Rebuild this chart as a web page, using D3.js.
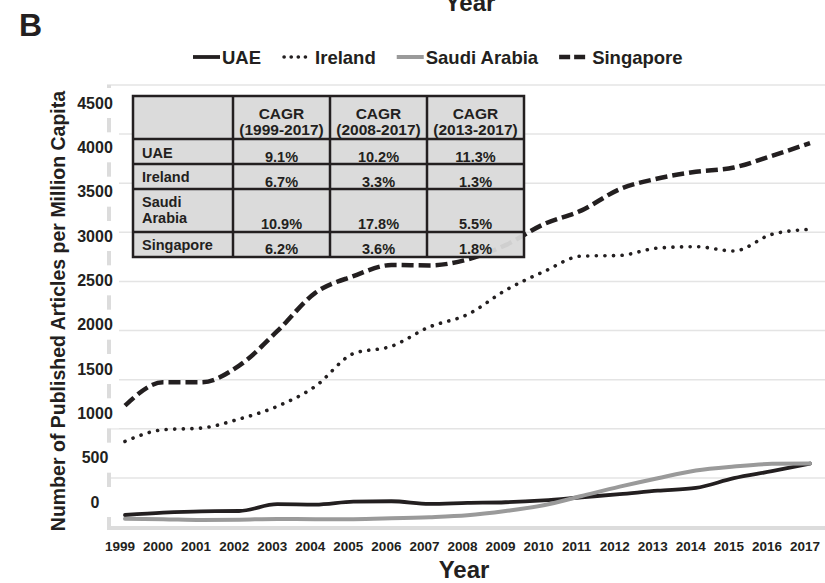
<!DOCTYPE html>
<html>
<head>
<meta charset="utf-8">
<script src="https://cdn.jsdelivr.net/npm/d3@7"></script>
<style>
  body { margin: 0; background: #fff; }
  svg { font-family: "Liberation Sans", Arial, sans-serif; font-weight: bold; }
</style>
</head>
<body>
<div id="chart"></div>
<script>
// data
const years = d3.range(1999, 2018);
const uae = [122, 146, 160, 163, 232, 228, 258, 262, 235, 245, 252, 272, 303, 334, 370, 398, 497, 568, 646];
const ireland = [871, 990, 1007, 1099, 1228, 1432, 1765, 1840, 2037, 2163, 2410, 2599, 2758, 2765, 2840, 2854, 2810, 2980, 3031];
const saudi = [85, 80, 71, 74, 82, 80, 80, 88, 100, 120, 163, 221, 316, 411, 497, 575, 616, 643, 646];
const singapore = [1235, 1473, 1473, 1643, 1993, 2384, 2554, 2667, 2663, 2724, 2870, 3082, 3224, 3439, 3548, 3616, 3660, 3779, 3908];
const seriesNames = ["UAE", "Ireland", "Saudi Arabia", "Singapore"];
const yTicks = [0, 500, 1000, 1500, 2000, 2500, 3000, 3500, 4000, 4500];

// CAGR table
const tableHeader = ["CAGR (1999-2017)", "CAGR (2008-2017)", "CAGR (2013-2017)"];
const tableRows = ["UAE", "Ireland", "Saudi Arabia", "Singapore"];
const cagrAll = ["9.1%", "6.7%", "10.9%", "6.2%"];
const cagr2008 = ["10.2%", "3.3%", "17.8%", "3.6%"];
const cagr2013 = ["11.3%", "1.3%", "5.5%", "1.8%"];

const width = 825, height = 583;
const plotLeft = 107, plotRight = 825, plotBottom = 527, plotTop = 85;

const svg = d3.select("#chart").append("svg")
  .attr("width", width).attr("height", height);

const x = d3.scaleLinear().domain([1999, 2017]).range([125, 810]);
const y = d3.scaleLinear().domain([0, 4500]).range([plotBottom, plotTop]);
// the tick labels in the figure sit on their own spacing
const yLabel = d3.scaleLinear().domain([0, 4500]).range([502, 103]);

// gridlines
svg.append("g").selectAll("line")
  .data(yTicks.filter(d => d > 0))
  .join("line")
  .attr("x1", plotLeft).attr("x2", plotRight)
  .attr("y1", d => y(d)).attr("y2", d => y(d))
  .attr("stroke", "#e4e4e4").attr("stroke-width", 1.5);

// axis lines (light gray)
svg.append("line")
  .attr("x1", plotLeft + 2).attr("x2", plotLeft + 2).attr("y1", plotTop).attr("y2", plotBottom)
  .attr("stroke", "#dcdcdc").attr("stroke-width", 4);
svg.append("line")
  .attr("x1", plotLeft).attr("x2", plotRight).attr("y1", plotBottom + 1).attr("y2", plotBottom + 1)
  .attr("stroke", "#dcdcdc").attr("stroke-width", 4);

// y tick labels with white backing that breaks the axis line
const yl = svg.append("g").selectAll("g").data(yTicks).join("g")
  .attr("transform", d => `translate(95,${yLabel(d)})`);
yl.append("rect").attr("x", -24).attr("y", -15).attr("width", 48).attr("height", 30).attr("fill", "#fff");
yl.append("text").attr("text-anchor", "middle").attr("dy", "0.36em")
  .attr("font-size", 16).attr("fill", "#231f20").text(d => d);

// x tick labels
svg.append("g").selectAll("text").data(years).join("text")
  .attr("x", d => x(d) - 5).attr("y", 551)
  .attr("text-anchor", "middle").attr("font-size", 13.5).attr("fill", "#231f20")
  .text(d => d);

// axis titles
svg.append("text").attr("x", 464).attr("y", 578).attr("text-anchor", "middle")
  .attr("font-size", 24).attr("fill", "#231f20").text("Year");
svg.append("text").attr("x", 470).attr("y", 11).attr("text-anchor", "middle")
  .attr("font-size", 24).attr("fill", "#231f20").text("Year");
svg.append("text").attr("x", 19).attr("y", 36)
  .attr("font-size", 32).attr("fill", "#231f20").text("B");
svg.append("text")
  .attr("transform", "translate(65,311) rotate(-90)")
  .attr("text-anchor", "middle").attr("font-size", 19.5).attr("fill", "#231f20")
  .text("Number of Published Articles  per Million Capita");

// series styles
const styles = {
  "UAE": { color: "#231f20", width: 3.8, dash: null, cap: "round" },
  "Ireland": { color: "#231f20", width: 3.6, dash: "0.1 8.5", cap: "round" },
  "Saudi Arabia": { color: "#9a9a9a", width: 4, dash: null, cap: "round" },
  "Singapore": { color: "#231f20", width: 4.5, dash: "12 5", cap: "butt" }
};
const seriesData = { "UAE": uae, "Ireland": ireland, "Saudi Arabia": saudi, "Singapore": singapore };

const line = d3.line()
  .x((d, i) => x(years[i]))
  .y(d => y(d))
  .curve(d3.curveMonotoneX);

["Ireland", "Singapore", "UAE", "Saudi Arabia"].forEach(name => {
  const s = styles[name];
  svg.append("path")
    .datum(seriesData[name])
    .attr("d", line)
    .attr("fill", "none")
    .attr("stroke", s.color)
    .attr("stroke-width", s.width)
    .attr("stroke-linecap", s.cap)
    .attr("stroke-linejoin", "round")
    .attr("stroke-dasharray", s.dash);
});

// legend
let lx = 193;
seriesNames.forEach(name => {
  const s = styles[name];
  svg.append("line")
    .attr("x1", lx + (s.cap === "round" && s.dash ? 2 : 0)).attr("x2", lx + 27)
    .attr("y1", 57).attr("y2", 57)
    .attr("stroke", s.color).attr("stroke-width", s.width)
    .attr("stroke-linecap", s.dash ? s.cap : "butt")
    .attr("stroke-dasharray", s.dash ? (name === "Ireland" ? "0.1 7" : "11 4") : null);
  const t = svg.append("text")
    .attr("x", lx + 27 + (s.dash ? 6 : 2)).attr("y", 63.5)
    .attr("font-size", 18.5).attr("fill", "#231f20").text(name);
  lx = lx + 27 + (s.dash ? 6 : 2) + t.node().getComputedTextLength() + 21;
});

// table
const colX = [133, 233, 330, 427, 524];
const rowY = [96, 139, 164, 189, 232, 257];
const tbl = svg.append("g");
tbl.append("rect")
  .attr("x", colX[0]).attr("y", rowY[0])
  .attr("width", colX[4] - colX[0]).attr("height", rowY[5] - rowY[0])
  .attr("fill", "#d9d9d9").attr("fill-opacity", 0.95);
rowY.slice(1, 5).forEach(ry => {
  tbl.append("line").attr("x1", colX[0]).attr("x2", colX[4]).attr("y1", ry).attr("y2", ry)
    .attr("stroke", "#231f20").attr("stroke-width", 2.5);
});
colX.slice(1, 4).forEach(cx => {
  tbl.append("line").attr("x1", cx).attr("x2", cx).attr("y1", rowY[0]).attr("y2", rowY[5])
    .attr("stroke", "#231f20").attr("stroke-width", 2.5);
});
tbl.append("rect")
  .attr("x", colX[0]).attr("y", rowY[0])
  .attr("width", colX[4] - colX[0]).attr("height", rowY[5] - rowY[0])
  .attr("fill", "none").attr("stroke", "#231f20").attr("stroke-width", 2.5);

tableHeader.forEach((h, i) => {
  const cx = (colX[i + 1] + colX[i + 2]) / 2;
  const parts = h.split(" ");
  tbl.append("text").attr("x", cx).attr("y", 119).attr("text-anchor", "middle")
    .attr("font-size", 15.5).attr("fill", "#231f20").text(parts[0]);
  tbl.append("text").attr("x", cx).attr("y", 135).attr("text-anchor", "middle")
    .attr("font-size", 15.5).attr("fill", "#231f20").text(parts[1]);
});

const labelBase = [[158], [181.5], [207, 223], [250]];
const valueBase = [161.5, 186.5, 229, 253.5];
const cols = [cagrAll, cagr2008, cagr2013];
tableRows.forEach((r, i) => {
  const lines = r === "Saudi Arabia" ? ["Saudi", "Arabia"] : [r];
  lines.forEach((l, j) => {
    tbl.append("text").attr("x", 142).attr("y", labelBase[i][j])
      .attr("font-size", 14.5).attr("fill", "#231f20").text(l);
  });
  cols.forEach((c, k) => {
    tbl.append("text").attr("x", (colX[k + 1] + colX[k + 2]) / 2).attr("y", valueBase[i])
      .attr("text-anchor", "middle").attr("font-size", 14.5).attr("fill", "#231f20").text(c[i]);
  });
});
</script>
</body>
</html>
